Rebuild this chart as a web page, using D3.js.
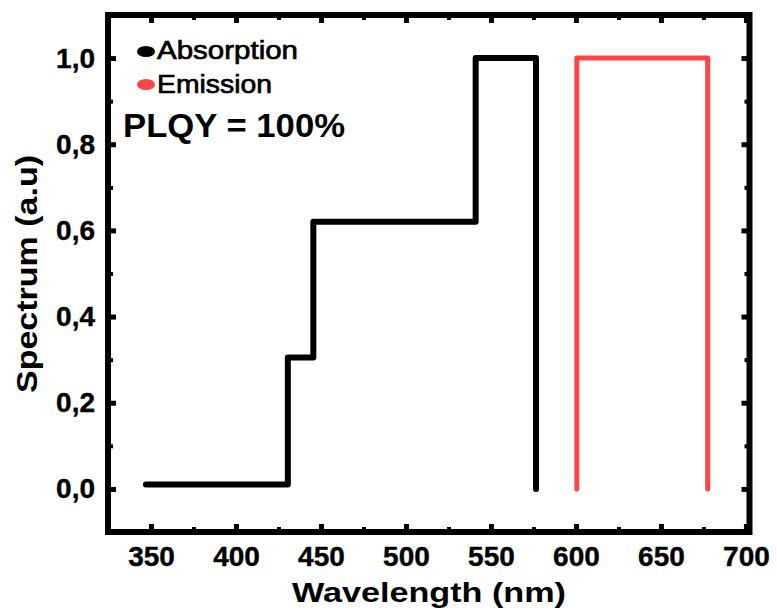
<!DOCTYPE html>
<html>
<head>
<meta charset="utf-8">
<script src="https://cdn.jsdelivr.net/npm/d3@7"></script>
<style>
  html, body { margin: 0; padding: 0; background: #fff; }
  svg { display: block; font-family: "Liberation Sans", Arial, sans-serif; }
</style>
</head>
<body>
<svg id="chart" width="777" height="610"></svg>
<script>
// ---- data ----
const absWavelength = [347, 430.5, 430.5, 445.5, 445.5, 541, 541, 576.5, 576.5];
const absValue      = [0.01, 0.01, 0.305, 0.305, 0.62, 0.62, 1.0, 1.0, 0.0];
const emWavelength  = [600.5, 600.5, 677.5, 677.5];
const emValue       = [0.0, 1.0, 1.0, 0.0];
const xMajorTicks = [350, 400, 450, 500, 550, 600, 650, 700];
const xMinorTicks = [375, 425, 475, 525, 575, 625, 675];
const yMajorTicks = [0.0, 0.2, 0.4, 0.6, 0.8, 1.0];
const yMinorTicks = [-0.1, 0.1, 0.3, 0.5, 0.7, 0.9];
const seriesNames = ["Absorption", "Emission"];
const seriesColors = ["#000000", "#ff4646"];
const annotation = "PLQY = 100%";
const xTitle = "Wavelength (nm)";
const yTitle = "Spectrum (a.u)";

// ---- layout ----
const L = 108, R = 749.5, T = 15, B = 532;
const svg = d3.select("#chart");
const x = d3.scaleLinear().domain([324.7, 702.1]).range([L, R]);
const y = d3.scaleLinear().domain([-0.1, 1.1]).range([B, T]);
const fmt = d => d3.format(".1f")(d).replace(".", ",");

function styleAxis(g, w) {
  g.select(".domain").remove();
  g.selectAll(".tick line").attr("stroke", "#000").attr("stroke-width", w);
  g.selectAll(".tick text").attr("fill", "#000").attr("font-size", 28).attr("font-weight", "bold")
    .attr("stroke", "#000").attr("stroke-width", 0.4);
}

// bottom axis
svg.append("g").attr("transform", `translate(0,${B})`)
  .call(d3.axisBottom(x).tickValues(xMajorTicks).tickSize(-8).tickPadding(14).tickFormat(d3.format("d")))
  .call(g => styleAxis(g, 5));
svg.append("g").attr("transform", `translate(0,${B})`)
  .call(d3.axisBottom(x).tickValues(xMinorTicks).tickSize(-5).tickFormat(""))
  .call(g => styleAxis(g, 4));
// top axis
svg.append("g").attr("transform", `translate(0,${T})`)
  .call(d3.axisTop(x).tickValues(xMajorTicks).tickSize(-8).tickFormat(""))
  .call(g => styleAxis(g, 5));
svg.append("g").attr("transform", `translate(0,${T})`)
  .call(d3.axisTop(x).tickValues(xMinorTicks).tickSize(-5).tickFormat(""))
  .call(g => styleAxis(g, 4));
// left axis
svg.append("g").attr("transform", `translate(${L},0)`)
  .call(d3.axisLeft(y).tickValues(yMajorTicks).tickSize(-8).tickPadding(13).tickFormat(fmt))
  .call(g => styleAxis(g, 5));
svg.append("g").attr("transform", `translate(${L},0)`)
  .call(d3.axisLeft(y).tickValues(yMinorTicks).tickSize(-5).tickFormat(""))
  .call(g => styleAxis(g, 4));
// right axis
svg.append("g").attr("transform", `translate(${R},0)`)
  .call(d3.axisRight(y).tickValues(yMajorTicks).tickSize(-8).tickFormat(""))
  .call(g => styleAxis(g, 5));
svg.append("g").attr("transform", `translate(${R},0)`)
  .call(d3.axisRight(y).tickValues(yMinorTicks).tickSize(-5).tickFormat(""))
  .call(g => styleAxis(g, 4));

// frame
svg.append("rect").attr("x", L).attr("y", T).attr("width", R - L).attr("height", B - T)
  .attr("fill", "none").attr("stroke", "#000").attr("stroke-width", 6);

// lines
const line = d3.line().x(d => x(d[0])).y(d => y(d[1]));
const absData = absWavelength.map((w, i) => [w, absValue[i]]);
const emData = emWavelength.map((w, i) => [w, emValue[i]]);
svg.append("path").datum(absData).attr("d", line)
  .attr("fill", "none").attr("stroke", seriesColors[0]).attr("stroke-width", 6)
  .attr("stroke-linejoin", "round").attr("stroke-linecap", "round");
svg.append("path").datum(emData).attr("d", line)
  .attr("fill", "none").attr("stroke", seriesColors[1]).attr("stroke-width", 5)
  .attr("stroke-linejoin", "round").attr("stroke-linecap", "round");

// legend
const legY = [51.5, 84.5], legBase = [59, 93], legLen = [141, 115];
seriesNames.forEach((name, i) => {
  svg.append("ellipse").attr("cx", 146).attr("cy", legY[i]).attr("rx", 9).attr("ry", 5.5)
    .attr("fill", seriesColors[i]);
  svg.append("text").attr("x", 157).attr("y", legBase[i]).attr("font-size", 26)
    .attr("textLength", legLen[i]).attr("lengthAdjust", "spacingAndGlyphs")
    .attr("fill", "#000").attr("stroke", "#000").attr("stroke-width", 0.7).text(name);
});

// annotation
svg.append("text").attr("x", 123).attr("y", 137).attr("font-size", 33).attr("font-weight", "bold")
  .attr("textLength", 222).attr("lengthAdjust", "spacingAndGlyphs").attr("fill", "#000").text(annotation);

// axis titles
svg.append("text").attr("x", 429).attr("y", 602).attr("text-anchor", "middle")
  .attr("font-size", 28).attr("font-weight", "bold")
  .attr("textLength", 274).attr("lengthAdjust", "spacingAndGlyphs").attr("fill", "#000").text(xTitle);
svg.append("text").attr("transform", "translate(37,274) rotate(-90)").attr("text-anchor", "middle")
  .attr("font-size", 30).attr("font-weight", "bold")
  .attr("textLength", 238).attr("lengthAdjust", "spacingAndGlyphs").attr("fill", "#000").text(yTitle);
</script>
</body>
</html>
